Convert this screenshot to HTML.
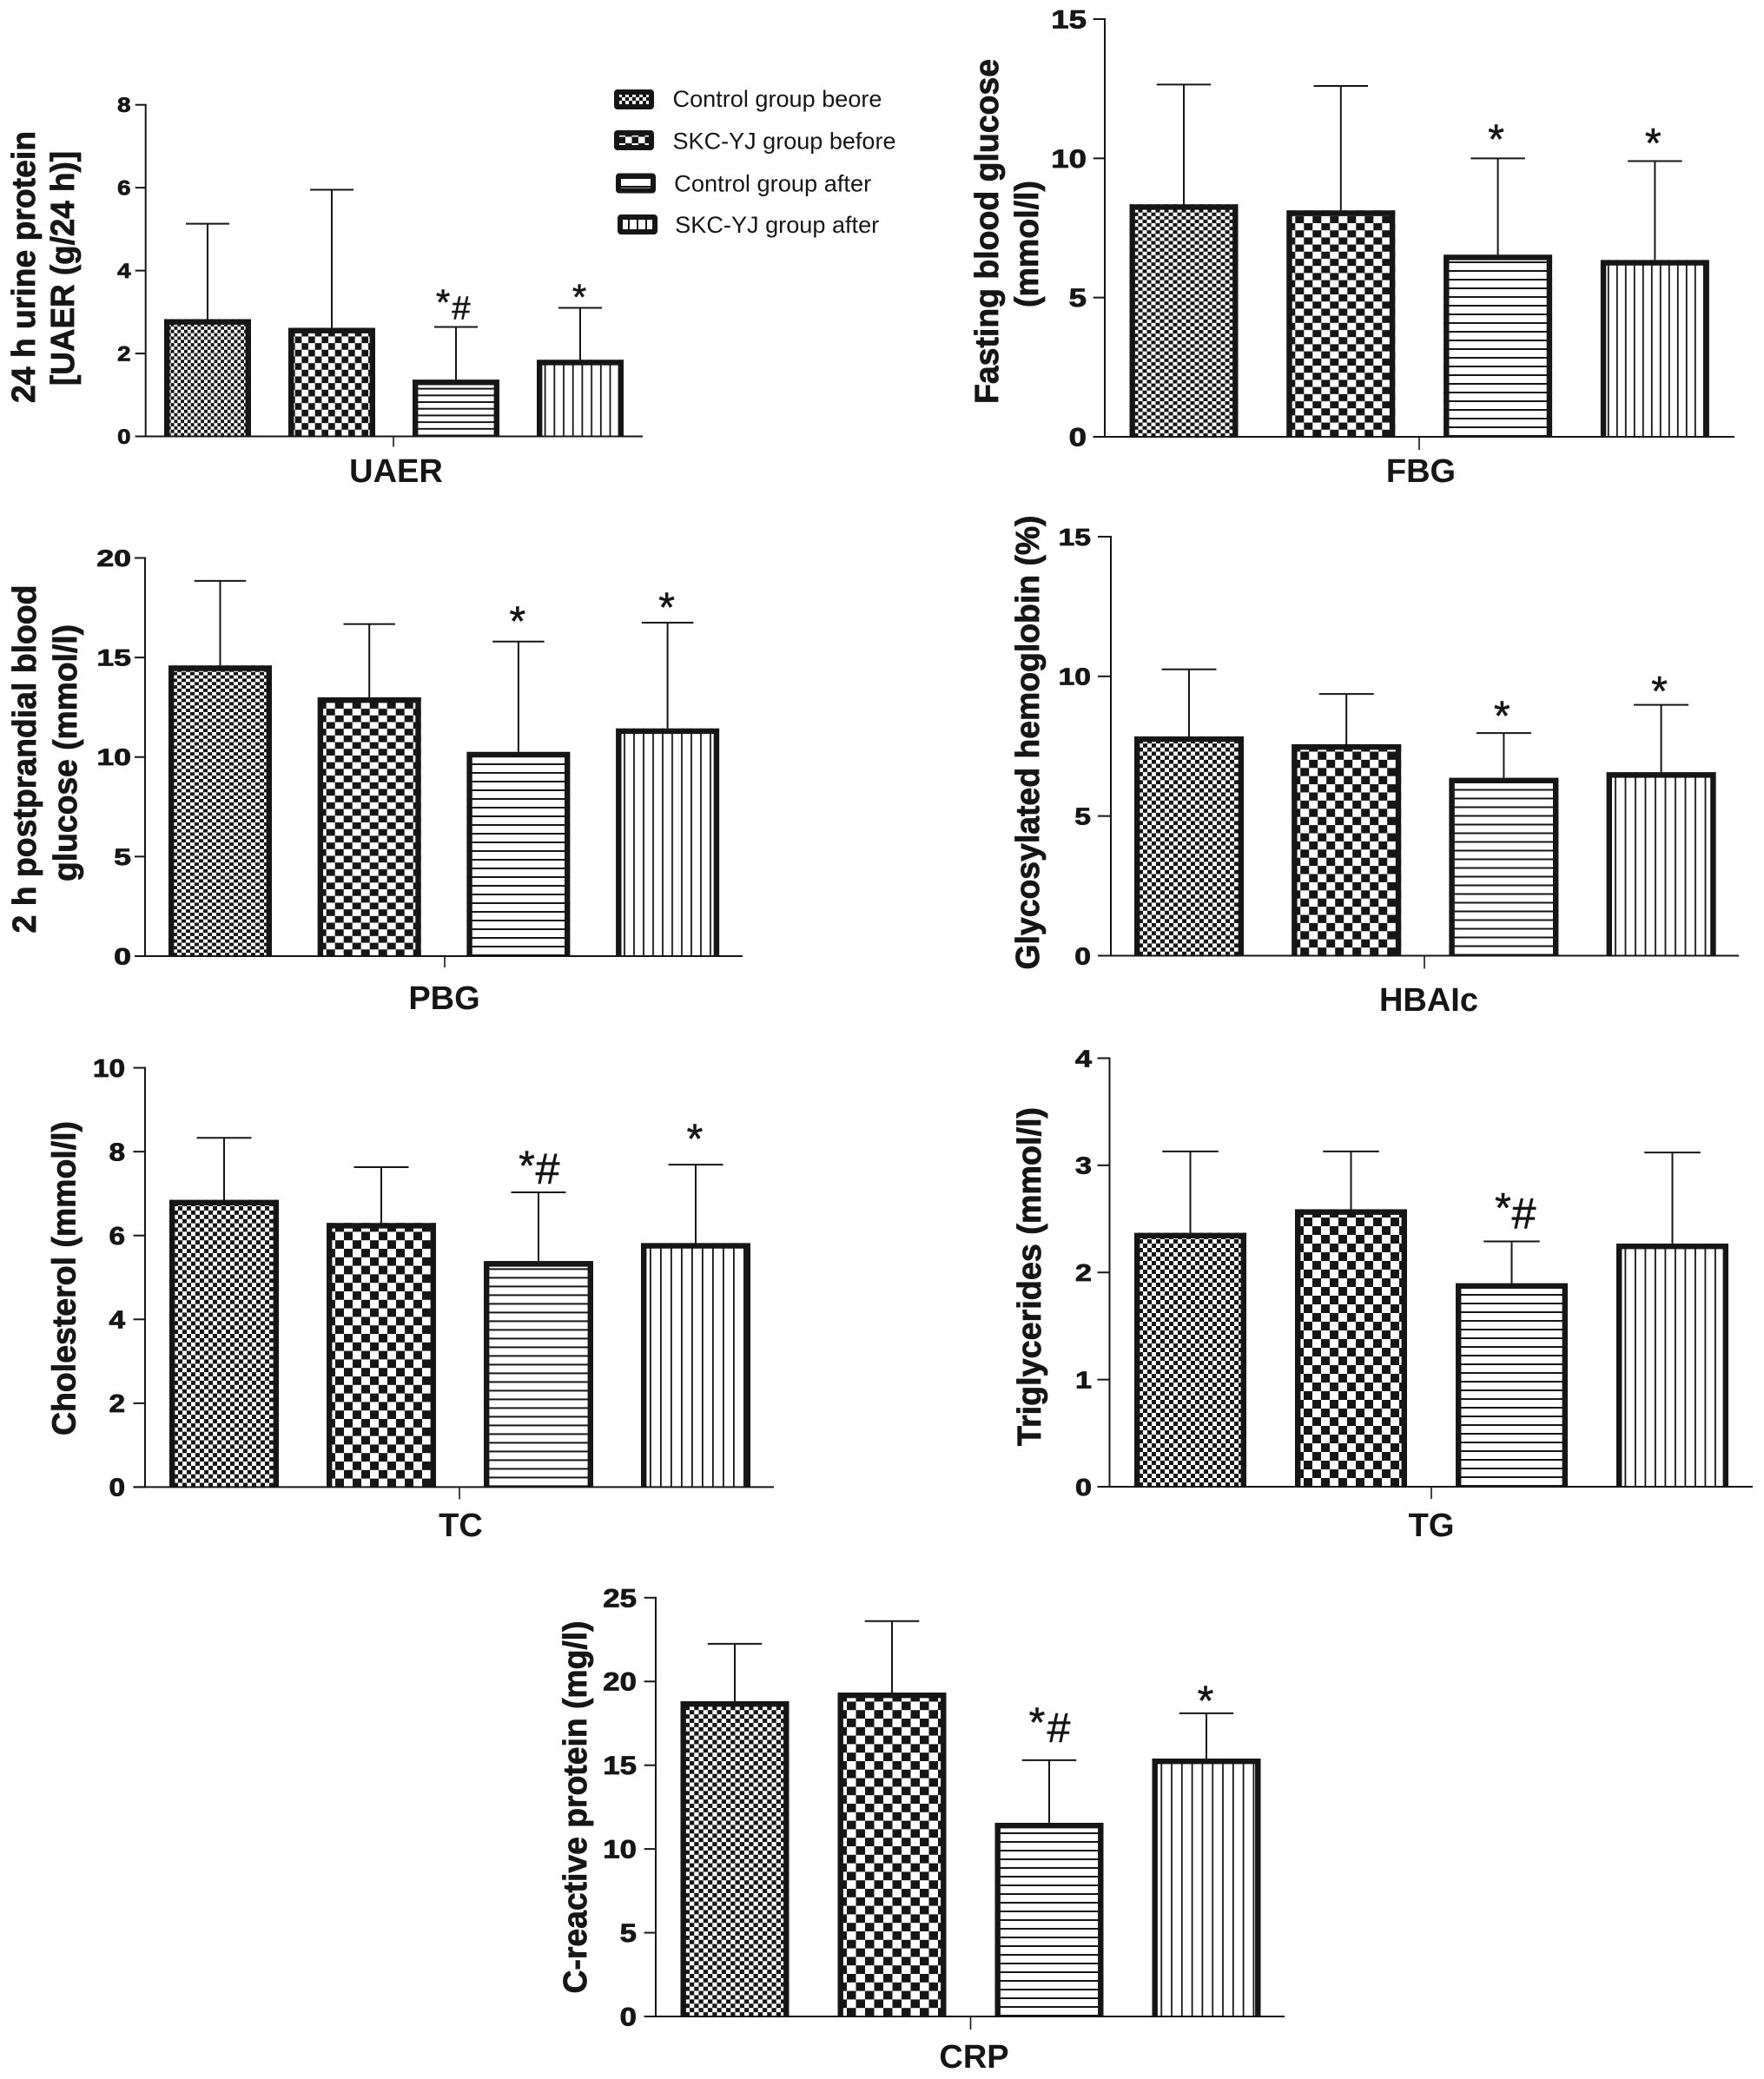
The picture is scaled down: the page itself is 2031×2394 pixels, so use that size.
<!DOCTYPE html>
<html lang="en">
<head>
<meta charset="utf-8">
<title>Clinical indicators before and after treatment</title>
<style>
html,body{margin:0;padding:0;background:#fff;}
svg{display:block;}
text{font-family:"Liberation Sans",Arial,sans-serif;fill:#161616;}
.heavy{stroke:#161616;stroke-width:0.8px;}
.mark{stroke:#161616;stroke-width:0.6px;}
</style>
</head>
<body>
<svg id="figure" xmlns="http://www.w3.org/2000/svg" width="2031" height="2394" viewBox="0 0 2031 2394">
  <rect x="0" y="0" width="2031" height="2394" fill="#fff"/>
  <defs id="defs">
    <pattern id="lg-fine" patternUnits="userSpaceOnUse" width="8" height="8"><rect width="8" height="8" fill="#fff"/><rect width="4" height="4" fill="#161616"/><rect x="4" y="4" width="4" height="4" fill="#161616"/></pattern>
    <pattern id="lg-coarse" patternUnits="userSpaceOnUse" width="15" height="15"><rect width="15" height="15" fill="#fff"/><rect width="7.5" height="7.5" fill="#161616"/><rect x="7.5" y="7.5" width="7.5" height="7.5" fill="#161616"/></pattern>
    <pattern id="lg-h" patternUnits="userSpaceOnUse" width="10" height="10"><rect width="10" height="10" fill="#fff"/><rect y="4" width="10" height="2" fill="#161616"/></pattern>
    <pattern id="lg-v" patternUnits="userSpaceOnUse" width="10" height="10"><rect width="10" height="10" fill="#fff"/><rect x="3" width="2" height="10" fill="#161616"/></pattern>
  </defs>

  <g>
    <g>
      <rect x="710" y="106" width="40" height="17" rx="1" fill="url(#lg-fine)" stroke="#161616" stroke-width="6"/>
      <text x="774.5" y="123" font-size="27" textLength="241" lengthAdjust="spacingAndGlyphs">Control group beore</text>
    </g>
    <g>
      <rect x="710" y="153" width="40" height="17" rx="1" fill="url(#lg-coarse)" stroke="#161616" stroke-width="6"/>
      <text x="774.5" y="171.5" font-size="27" textLength="257" lengthAdjust="spacingAndGlyphs">SKC-YJ group before</text>
    </g>
    <g>
      <rect x="712" y="202.5" width="40" height="17" rx="1" fill="url(#lg-h)" stroke="#161616" stroke-width="6"/>
      <text x="776.2" y="220.5" font-size="27" textLength="227" lengthAdjust="spacingAndGlyphs">Control group after</text>
    </g>
    <g>
      <rect x="714" y="250" width="40" height="17" rx="1" fill="url(#lg-v)" stroke="#161616" stroke-width="6"/>
      <text x="777.2" y="268" font-size="27" textLength="235" lengthAdjust="spacingAndGlyphs">SKC-YJ group after</text>
    </g>
  </g>
</svg>

<script>
// ---- chart data ----
const groupKeys = ['control-before', 'skc-before', 'control-after', 'skc-after'];
const groupFills = ['fine', 'coarse', 'hlines', 'vlines'];

const uaerMeans = [2.83, 2.62, 1.37, 1.85];
const uaerSD = [2.30, 3.33, 1.27, 1.25];
const uaerTicks = [0, 2, 4, 6, 8];
const uaerMarks = ['', '', '*#', '*'];

const fbgMeans = [8.35, 8.13, 6.54, 6.35];
const fbgSD = [4.30, 4.47, 3.46, 3.55];
const fbgTicks = [0, 5, 10, 15];
const fbgMarks = ['', '', '*', '*'];

const pbgMeans = [14.6, 13.0, 10.26, 11.44];
const pbgSD = [4.25, 3.68, 5.54, 5.31];
const pbgTicks = [0, 5, 10, 15, 20];
const pbgMarks = ['', '', '*', '*'];

const hbaMeans = [7.85, 7.57, 6.37, 6.57];
const hbaSD = [2.40, 1.80, 1.60, 2.41];
const hbaTicks = [0, 5, 10, 15];
const hbaMarks = ['', '', '*', '*'];

const tcMeans = [6.85, 6.30, 5.39, 5.82];
const tcSD = [1.48, 1.33, 1.64, 1.87];
const tcTicks = [0, 2, 4, 6, 8, 10];
const tcMarks = ['', '', '*#', '*'];

const tgMeans = [2.37, 2.59, 1.90, 2.27];
const tgSD = [0.76, 0.54, 0.39, 0.85];
const tgTicks = [0, 1, 2, 3, 4];
const tgMarks = ['', '', '*#', ''];

const crpMeans = [18.82, 19.34, 11.56, 15.40];
const crpSD = [3.43, 4.26, 3.74, 2.70];
const crpTicks = [0, 5, 10, 15, 20, 25];
const crpMarks = ['', '', '*#', '*'];

// ---- panel layout (frames and styling only) ----
const panels = [
  {key:'uaer', label:'UAER', means:uaerMeans, sd:uaerSD, ticks:uaerTicks, marks:uaerMarks,
   frame:{axisX:167.7, tickLeft:155.7, right:740, top:120.7, bottom:502.5, barLeft:189, barW:100, step:143, xTick:453, tickDown:12},
   labelPos:{x:456, y:555},
   tickFont:{size:24, sx:1.15, right:150.5},
   titles:[{t:'24 h urine protein', x:40, c:307.5, len:313},{t:'[UAER (g/24 h)]', x:85, c:309, len:270}],
   fills:{cw:7.67, ch:7.67, hp:7.7, vp:10.7},
   markStyle:{star:42, hash:38, starGap:[0,0,38,22], starDx:-15, soloDx:-1, hashDx:6, hashGap:9}},
  {key:'fbg', label:'FBG', means:fbgMeans, sd:fbgSD, ticks:fbgTicks, marks:fbgMarks,
   frame:{axisX:1272, tickLeft:1258.7, right:1997, top:22, bottom:503, barLeft:1300.5, barW:125, step:180.8, xTick:1634, tickDown:15},
   labelPos:{x:1636, y:555},
   tickFont:{size:30, sx:1.22, right:1251},
   titles:[{t:'Fasting blood glucose', x:1149, c:266.5, len:397},{t:'(mmol/l)', x:1195, c:281, len:146}],
   fills:{cw:10, ch:8.2, hp:10, vp:10},
   markStyle:{star:48, hash:48, starGap:[0,0,33.5,32], starDx:-14, soloDx:-2, hashDx:10, hashGap:11}},
  {key:'pbg', label:'PBG', means:pbgMeans, sd:pbgSD, ticks:pbgTicks, marks:pbgMarks,
   frame:{axisX:167, tickLeft:155, right:855, top:642.5, bottom:1101, barLeft:194, barW:119, step:171.7, xTick:512, tickDown:13},
   labelPos:{x:511.5, y:1162},
   tickFont:{size:27, sx:1.32, right:151},
   titles:[{t:'2 h postprandial blood', x:41, c:874, len:401},{t:'glucose (mmol/l)', x:88, c:867, len:296}],
   fills:{cw:10, ch:7.7, hp:10, vp:11},
   markStyle:{star:48, hash:48, starGap:[0,0,35,29], starDx:-14, soloDx:-1, hashDx:10, hashGap:11}},
  {key:'hba', label:'HBAIc', means:hbaMeans, sd:hbaSD, ticks:hbaTicks, marks:hbaMarks,
   frame:{axisX:1279, tickLeft:1264, right:2002, top:618, bottom:1100.5, barLeft:1306, barW:126, step:181.2, xTick:1640, tickDown:15},
   labelPos:{x:1645, y:1164},
   tickFont:{size:28, sx:1.2, right:1256},
   titles:[{t:'Glycosylated hemoglobin (%)', x:1196, c:855, len:523}],
   fills:{cw:10, ch:9.4, hp:10, vp:11.5},
   markStyle:{star:48, hash:48, starGap:[0,0,31,27], starDx:-14, soloDx:-2, hashDx:10, hashGap:11}},
  {key:'tc', label:'TC', means:tcMeans, sd:tcSD, ticks:tcTicks, marks:tcMarks,
   frame:{axisX:167, tickLeft:153.5, right:891, top:1229.6, bottom:1712.4, barLeft:195, barW:126, step:181, xTick:529, tickDown:14},
   labelPos:{x:530.5, y:1769},
   tickFont:{size:29, sx:1.15, right:144},
   titles:[{t:'Cholesterol (mmol/l)', x:86.6, c:1472, len:362}],
   fills:{cw:10, ch:9.8, hp:10, vp:12},
   markStyle:{star:48, hash:50, starGap:[0,0,42,41], starDx:-13.5, soloDx:-1, hashDx:10.5, hashGap:10}},
  {key:'tg', label:'TG', means:tgMeans, sd:tgSD, ticks:tgTicks, marks:tgMarks,
   frame:{axisX:1277.5, tickLeft:1263.5, right:2018, top:1218.5, bottom:1712, barLeft:1306, barW:129, step:185, xTick:1648, tickDown:14},
   labelPos:{x:1648, y:1769},
   tickFont:{size:28, sx:1.22, right:1257},
   titles:[{t:'Triglycerides (mmol/l)', x:1198, c:1470, len:390}],
   fills:{cw:10, ch:10, hp:10, vp:11.5},
   markStyle:{star:48, hash:50, starGap:[0,0,50,30], starDx:-10, soloDx:-1, hashDx:14, hashGap:15}},
  {key:'crp', label:'CRP', means:crpMeans, sd:crpSD, ticks:crpTicks, marks:crpMarks,
   frame:{axisX:755, tickLeft:741.7, right:1479, top:1839.8, bottom:2322, barLeft:783.5, barW:125, step:181, xTick:1117.5, tickDown:15},
   labelPos:{x:1121.5, y:2381},
   tickFont:{size:30, sx:1.16, right:733},
   titles:[{t:'C-reactive protein (mg/l)', x:675, c:2081, len:429}],
   fills:{cw:10.5, ch:9.8, hp:10, vp:11.8},
   markStyle:{star:48, hash:48, starGap:[0,0,55,26], starDx:-14, soloDx:-1, hashDx:11, hashGap:21}}
];

const NS = 'http://www.w3.org/2000/svg';
const INK = '#161616';
const svgRoot = document.getElementById('figure');
const defsEl = document.getElementById('defs');

function mk(tag, attrs, parent) {
  const node = document.createElementNS(NS, tag);
  for (const k in attrs) node.setAttribute(k, attrs[k]);
  parent.appendChild(node);
  return node;
}

function addPatterns(p) {
  const f = p.fills;
  const fine = mk('pattern', {id:p.key + '-fine', patternUnits:'userSpaceOnUse', width:f.cw, height:f.ch}, defsEl);
  mk('rect', {width:f.cw, height:f.ch, fill:'#fff'}, fine);
  mk('rect', {width:f.cw / 2, height:f.ch / 2, fill:INK}, fine);
  mk('rect', {x:f.cw / 2, y:f.ch / 2, width:f.cw / 2, height:f.ch / 2, fill:INK}, fine);
  const coarse = mk('pattern', {id:p.key + '-coarse', patternUnits:'userSpaceOnUse', width:f.cw * 2, height:f.ch * 2}, defsEl);
  mk('rect', {width:f.cw * 2, height:f.ch * 2, fill:'#fff'}, coarse);
  mk('rect', {width:f.cw, height:f.ch, fill:INK}, coarse);
  mk('rect', {x:f.cw, y:f.ch, width:f.cw, height:f.ch, fill:INK}, coarse);
  const hl = mk('pattern', {id:p.key + '-hlines', patternUnits:'userSpaceOnUse', width:10, height:f.hp}, defsEl);
  mk('rect', {width:10, height:f.hp, fill:'#fff'}, hl);
  mk('rect', {y:f.hp - 2, width:10, height:2, fill:INK}, hl);
  const vl = mk('pattern', {id:p.key + '-vlines', patternUnits:'userSpaceOnUse', width:f.vp, height:10}, defsEl);
  mk('rect', {width:f.vp, height:10, fill:'#fff'}, vl);
  mk('rect', {x:f.vp - 2, width:1.8, height:10, fill:INK}, vl);
}

function drawPanel(p) {
  const fr = p.frame;
  const yMax = p.ticks[p.ticks.length - 1];
  const yScale = function (v) { return fr.bottom - (v / yMax) * (fr.bottom - fr.top); };
  const xBar = function (i) { return fr.barLeft + i * fr.step; };

  addPatterns(p);

  const panel = mk('g', {}, svgRoot);
  
  

  // bars and error bars
  p.means.forEach(function (m, i) {
    const x = xBar(i);
    const top = yScale(m);
    const h = fr.bottom - top;
    const bar = mk('g', {transform:'translate(' + x + ',' + fr.bottom + ')'}, panel);
    
    
    const fillRect = mk('rect', {x:0, y:-h, width:fr.barW, height:h, fill:'url(#' + p.key + '-' + groupFills[i] + ')'}, bar);
    
    
    const outline = mk('path', {d:'M3.2 0V' + (-h + 3.2) + 'H' + (fr.barW - 3.2) + 'V0', fill:'none', stroke:INK, 'stroke-width':6.4}, bar);
    
    

    const cx = x + fr.barW / 2;
    const errTop = yScale(m + p.sd[i]);
    const capHalf = fr.barW / 4;
    const stem = mk('line', {x1:cx, x2:cx, y1:top, y2:errTop, stroke:INK, 'stroke-width':2}, panel);
    
    
    const cap = mk('line', {x1:cx - capHalf, x2:cx + capHalf, y1:errTop, y2:errTop, stroke:INK, 'stroke-width':2}, panel);
    
    

    // significance marks
    const mark = p.marks[i];
    const ms = p.markStyle;
    if (mark.indexOf('*') >= 0) {
      const dx = mark === '*#' ? ms.starDx : ms.soloDx;
      const star = mk('text', {x:cx + dx, y:errTop - ms.starGap[i] + ms.star * 0.575, 'font-size':ms.star, 'text-anchor':'middle', 'class':'mark'}, panel);
      star.textContent = '*';
      
      
    }
    if (mark.indexOf('#') >= 0) {
      const hash = mk('text', {x:cx + ms.hashDx, y:errTop - ms.hashGap, 'font-size':ms.hash, 'text-anchor':'middle', 'class':'mark'}, panel);
      hash.textContent = '#';
      
      
    }
  });

  // axes
  const yAxis = mk('line', {x1:fr.axisX, x2:fr.axisX, y1:fr.top - 1, y2:fr.bottom + 1, stroke:INK, 'stroke-width':2}, panel);
  
  
  const xAxis = mk('line', {x1:fr.tickLeft, x2:fr.right, y1:fr.bottom, y2:fr.bottom, stroke:INK, 'stroke-width':2}, panel);
  
  
  const xTick = mk('line', {x1:fr.xTick, x2:fr.xTick, y1:fr.bottom, y2:fr.bottom + fr.tickDown, stroke:INK, 'stroke-width':1.6}, panel);
  
  

  p.ticks.forEach(function (v) {
    const y = yScale(v);
    const tick = mk('line', {x1:fr.tickLeft, x2:fr.axisX, y1:y, y2:y, stroke:INK, 'stroke-width':2}, panel);
    
    
    const tf = p.tickFont;
    const lab = mk('text', {transform:'translate(' + tf.right + ',' + (y + tf.size * 0.35) + ') scale(' + tf.sx + ',1)', 'font-size':tf.size, 'font-weight':'bold', 'text-anchor':'end', 'class':'heavy'}, panel);
    lab.textContent = String(v);
    
    
  });

  // y-axis title lines
  p.titles.forEach(function (tl) {
    const title = mk('text', {transform:'translate(' + tl.x + ',' + tl.c + ') rotate(-90)', 'font-size':38, 'font-weight':'bold', 'text-anchor':'middle', textLength:tl.len, lengthAdjust:'spacingAndGlyphs', 'class':'heavy'}, panel);
    title.textContent = tl.t;
    
    
  });

  // category label
  const cat = mk('text', {x:p.labelPos.x, y:p.labelPos.y, 'font-size':38, 'font-weight':'bold', 'text-anchor':'middle'}, panel);
  cat.textContent = p.label;
  
  
}

panels.forEach(drawPanel);
</script>
</body>
</html>
